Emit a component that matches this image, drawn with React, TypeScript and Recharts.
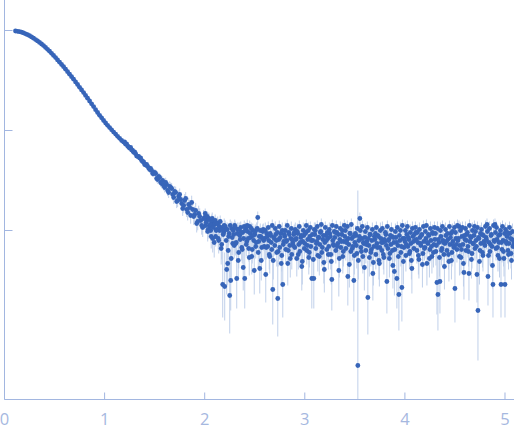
import React from 'react';
import { ScatterChart, Scatter, XAxis, YAxis, ErrorBar } from 'recharts';

// Guinier / decay part of the curve (q, log10 intensity, log10 error)
const qCurve = [
  0.11, 0.13, 0.15, 0.17, 0.19, 0.21, 0.23, 0.25, 0.27, 0.29,
  0.31, 0.33, 0.35, 0.37, 0.39, 0.41, 0.43, 0.45, 0.47, 0.49,
  0.51, 0.53, 0.55, 0.57, 0.59, 0.61, 0.63, 0.65, 0.67, 0.69,
  0.71, 0.73, 0.75, 0.77, 0.79, 0.81, 0.83, 0.85, 0.87, 0.89,
  0.91, 0.93, 0.95, 0.97, 0.99, 1.01, 1.03, 1.05, 1.07, 1.09,
  1.11, 1.13, 1.15, 1.17, 1.19, 1.21, 1.23, 1.25, 1.27, 1.29,
  1.31, 1.33, 1.35, 1.37, 1.39, 1.41, 1.43, 1.45, 1.47, 1.49,
  1.51, 1.53, 1.55, 1.57, 1.59, 1.61, 1.63, 1.65, 1.67, 1.69,
  1.71, 1.73, 1.75, 1.77, 1.79, 1.81, 1.83, 1.85, 1.87, 1.89,
  1.91, 1.93, 1.95, 1.97, 1.99,
];

const logICurve = [
  -0.005, -0.008, -0.012, -0.017, -0.024, -0.033, -0.042, -0.052, -0.064, -0.077,
  -0.091, -0.104, -0.119, -0.135, -0.151, -0.169, -0.188, -0.207, -0.228, -0.249,
  -0.271, -0.294, -0.317, -0.34, -0.362, -0.387, -0.412, -0.437, -0.462, -0.487,
  -0.514, -0.54, -0.568, -0.594, -0.621, -0.649, -0.677, -0.705, -0.733, -0.761,
  -0.792, -0.82, -0.848, -0.873, -0.9, -0.925, -0.948, -0.971, -0.993, -1.016,
  -1.036, -1.058, -1.078, -1.1, -1.116, -1.137, -1.155, -1.177, -1.194, -1.218,
  -1.232, -1.258, -1.276, -1.3, -1.315, -1.345, -1.358, -1.39, -1.4, -1.43,
  -1.43, -1.49, -1.47, -1.53, -1.55, -1.52, -1.6, -1.56, -1.58, -1.67,
  -1.62, -1.7, -1.64, -1.73, -1.75, -1.68, -1.82, -1.77, -1.72, -1.86,
  -1.8, -1.91, -1.86, -1.95, -1.88,
];

const errCurve = [
  0.004, 0.004, 0.004, 0.004, 0.004, 0.004, 0.004, 0.004, 0.004, 0.004,
  0.004, 0.004, 0.004, 0.004, 0.004, 0.004, 0.004, 0.004, 0.004, 0.004,
  0.004, 0.004, 0.005, 0.005, 0.005, 0.005, 0.005, 0.005, 0.005, 0.005,
  0.005, 0.005, 0.006, 0.006, 0.006, 0.006, 0.006, 0.006, 0.007, 0.007,
  0.007, 0.007, 0.007, 0.008, 0.008, 0.008, 0.009, 0.01, 0.01, 0.011,
  0.012, 0.012, 0.013, 0.014, 0.015, 0.016, 0.017, 0.018, 0.019, 0.02,
  0.022, 0.024, 0.025, 0.027, 0.029, 0.03, 0.032, 0.034, 0.036, 0.038,
  0.038, 0.044, 0.042, 0.048, 0.05, 0.048, 0.056, 0.052, 0.055, 0.064,
  0.058, 0.066, 0.06, 0.07, 0.072, 0.064, 0.08, 0.074, 0.068, 0.084,
  0.076, 0.088, 0.082, 0.092, 0.085,
];

// second run of frames over the steep part
const qCurve2 = [
  1.2, 1.22, 1.24, 1.26, 1.28, 1.3, 1.32, 1.34, 1.36, 1.38,
  1.4, 1.42, 1.44, 1.46, 1.48, 1.5, 1.52, 1.54, 1.56, 1.58,
  1.6, 1.62, 1.64, 1.66, 1.68, 1.7, 1.72, 1.74, 1.76, 1.78,
  1.8, 1.82, 1.84, 1.86, 1.88, 1.9, 1.92, 1.94, 1.96, 1.98,
];

const logICurve2 = [
  -1.115, -1.135, -1.165, -1.17, -1.2, -1.215, -1.255, -1.26, -1.275, -1.31,
  -1.34, -1.34, -1.375, -1.38, -1.43, -1.42, -1.48, -1.46, -1.52, -1.5,
  -1.57, -1.54, -1.62, -1.57, -1.64, -1.61, -1.71, -1.66, -1.69, -1.78,
  -1.7, -1.79, -1.74, -1.85, -1.79, -1.84, -1.93, -1.83, -1.9, -1.97,
];

const errCurve2 = [
  0.015, 0.016, 0.017, 0.018, 0.019, 0.02, 0.022, 0.022, 0.023, 0.025,
  0.027, 0.027, 0.03, 0.03, 0.035, 0.034, 0.04, 0.038, 0.044, 0.042,
  0.05, 0.046, 0.055, 0.05, 0.058, 0.054, 0.066, 0.06, 0.063, 0.074,
  0.064, 0.075, 0.068, 0.082, 0.075, 0.08, 0.09, 0.078, 0.086, 0.095,
];

// noisy flat tail, first set of frames
const qTail = [
  2.0, 2.01, 2.02, 2.03, 2.04, 2.05, 2.06, 2.07, 2.08, 2.09,
  2.1, 2.11, 2.12, 2.13, 2.14, 2.15, 2.16, 2.17, 2.18, 2.19,
  2.2, 2.21, 2.22, 2.23, 2.24, 2.25, 2.26, 2.27, 2.28, 2.29,
  2.3, 2.31, 2.32, 2.33, 2.34, 2.35, 2.36, 2.37, 2.38, 2.39,
  2.4, 2.41, 2.42, 2.43, 2.44, 2.45, 2.46, 2.47, 2.48, 2.49,
  2.5, 2.51, 2.52, 2.53, 2.54, 2.55, 2.56, 2.57, 2.58, 2.59,
  2.6, 2.61, 2.62, 2.63, 2.64, 2.65, 2.66, 2.67, 2.68, 2.69,
  2.7, 2.71, 2.72, 2.73, 2.74, 2.75, 2.76, 2.77, 2.78, 2.79,
  2.8, 2.81, 2.82, 2.83, 2.84, 2.85, 2.86, 2.87, 2.88, 2.89,
  2.9, 2.91, 2.92, 2.93, 2.94, 2.95, 2.96, 2.97, 2.98, 2.99,
  3.0, 3.01, 3.02, 3.03, 3.04, 3.05, 3.06, 3.07, 3.08, 3.09,
  3.1, 3.11, 3.12, 3.13, 3.14, 3.15, 3.16, 3.17, 3.18, 3.19,
  3.2, 3.21, 3.22, 3.23, 3.24, 3.25, 3.26, 3.27, 3.28, 3.29,
  3.3, 3.31, 3.32, 3.33, 3.34, 3.35, 3.36, 3.37, 3.38, 3.39,
  3.4, 3.41, 3.42, 3.43, 3.44, 3.45, 3.46, 3.47, 3.48, 3.49,
  3.5, 3.51, 3.52, 3.53, 3.54, 3.55, 3.56, 3.57, 3.58, 3.59,
  3.6, 3.61, 3.62, 3.63, 3.64, 3.65, 3.66, 3.67, 3.68, 3.69,
  3.7, 3.71, 3.72, 3.73, 3.74, 3.75, 3.76, 3.77, 3.78, 3.79,
  3.8, 3.81, 3.82, 3.83, 3.84, 3.85, 3.86, 3.87, 3.88, 3.89,
  3.9, 3.91, 3.92, 3.93, 3.94, 3.95, 3.96, 3.97, 3.98, 3.99,
  4.0, 4.01, 4.02, 4.03, 4.04, 4.05, 4.06, 4.07, 4.08, 4.09,
  4.1, 4.11, 4.12, 4.13, 4.14, 4.15, 4.16, 4.17, 4.18, 4.19,
  4.2, 4.21, 4.22, 4.23, 4.24, 4.25, 4.26, 4.27, 4.28, 4.29,
  4.3, 4.31, 4.32, 4.33, 4.34, 4.35, 4.36, 4.37, 4.38, 4.39,
  4.4, 4.41, 4.42, 4.43, 4.44, 4.45, 4.46, 4.47, 4.48, 4.49,
  4.5, 4.51, 4.52, 4.53, 4.54, 4.55, 4.56, 4.57, 4.58, 4.59,
  4.6, 4.61, 4.62, 4.63, 4.64, 4.65, 4.66, 4.67, 4.68, 4.69,
  4.7, 4.71, 4.72, 4.73, 4.74, 4.75, 4.76, 4.77, 4.78, 4.79,
  4.8, 4.81, 4.82, 4.83, 4.84, 4.85, 4.86, 4.87, 4.88, 4.89,
  4.9, 4.91, 4.92, 4.93, 4.94, 4.95, 4.96, 4.97, 4.98, 4.99,
  5.0, 5.01, 5.02, 5.03, 5.04, 5.05, 5.06, 5.07, 5.08, 5.09,
];

const logITail = [
  -1.87, -1.95, -1.9, -2.01, -1.88, -1.96, -2.0, -1.91, -2.08, -1.94,
  -1.94, -2.06, -1.99, -1.93, -2.1, -2.0, -1.97, -2.14, -2.54, -2.02,
  -2.56, -1.99, -2.39, -2.33, -2.06, -2.65, -2.5, -1.98, -2.13, -2.04,
  -1.95, -2.13, -2.48, -1.99, -2.22, -2.05, -1.97, -2.17, -2.02, -2.08,
  -2.48, -1.98, -2.11, -2.01, -2.18, -1.96, -2.07, -2.26, -2.0, -2.1,
  -2.04, -2.16, -1.99, -1.87, -2.11, -2.38, -2.06, -2.17, -2.01, -2.1,
  -2.08, -2.44, -2.03, -2.16, -2.1, -2.26, -2.05, -2.19, -2.59, -2.07,
  -2.15, -2.04, -2.22, -2.68, -2.09, -2.17, -2.03, -2.25, -2.54, -2.11,
  -2.06, -2.19, -2.1, -2.33, -2.02, -2.15, -2.08, -2.24, -2.12, -2.04,
  -2.17, -2.09, -2.28, -2.03, -2.14, -2.21, -2.07, -2.36, -2.11, -2.05,
  -2.13, -2.02, -2.2, -2.09, -2.27, -2.06, -2.16, -2.48, -2.1, -2.48,
  -2.04, -2.18, -2.11, -2.25, -2.07, -2.14, -2.01, -2.22, -2.09, -2.32,
  -2.12, -2.05, -2.19, -2.08, -2.16, -2.03, -2.24, -2.49, -2.1, -2.15,
  -2.07, -2.2, -2.02, -2.13, -2.4, -2.09, -2.17, -2.04, -2.26, -2.11,
  -2.06, -2.18, -2.1, -2.46, -2.14, -2.03, -2.21, -2.08, -2.16, -2.5,
  -2.12, -2.05, -2.23, -3.35, -2.1, -1.88, -2.17, -2.08, -2.26, -2.13,
  -2.07, -2.2, -2.11, -2.67, -2.15, -2.04, -2.22, -2.1, -2.43, -2.16,
  -2.09, -2.24, -2.13, -2.05, -2.3, -2.17, -2.08, -2.2, -2.12, -2.27,
  -2.11, -2.04, -2.51, -2.18, -2.09, -2.23, -2.14, -2.06, -2.35, -2.12,
  -2.19, -2.07, -2.48, -2.15, -2.64, -2.1, -2.22, -2.57, -2.08, -2.17,
  -2.11, -2.25, -2.04, -2.16, -2.09, -2.21, -2.13, -2.38, -2.06, -2.18,
  -2.1, -2.02, -2.2, -2.12, -2.29, -2.07, -2.15, -2.04, -2.23, -2.11,
  -2.17, -2.08, -2.33, -2.13, -2.05, -2.19, -2.1, -2.26, -2.03, -2.14,
  -2.09, -2.21, -2.52, -2.64, -2.12, -2.51, -2.06, -2.18, -2.1, -2.24,
  -2.13, -2.05, -2.2, -2.09, -2.31, -2.14, -2.03, -2.22, -2.11, -2.17,
  -2.58, -2.08, -2.19, -2.1, -1.96, -2.15, -2.27, -2.06, -2.14, -2.42,
  -2.09, -2.2, -2.04, -2.16, -2.43, -2.11, -2.07, -2.23, -2.13, -2.05,
  -2.18, -2.1, -2.44, -2.8, -2.08, -2.2, -2.13, -2.04, -2.25, -2.11,
  -2.15, -2.07, -1.94, -2.46, -2.12, -2.21, -2.05, -2.16, -2.54, -2.1,
  -1.94, -2.18, -2.09, -2.25, -2.12, -2.04, -2.54, -2.19, -2.1, -2.28,
  -2.54, -2.11, -2.06, -2.2, -2.13, -2.03, -2.23, -2.09, -2.16, -2.12,
];

// [down, up] where a bar is cut by the bottom of the plot
const errTail: (number | number[])[] = [
  0.06, 0.08, 0.06, 0.1, 0.06, 0.08, 0.1, 0.07, 0.14, 0.08,
  0.07, 0.1, 0.08, 0.07, 0.13, 0.08, 0.07, 0.15, 0.33, 0.09,
  0.34, 0.07, 0.25, 0.22, 0.09, 0.38, 0.3, 0.07, 0.12, 0.08,
  0.06, 0.12, 0.3, 0.07, 0.16, 0.09, 0.06, 0.13, 0.08, 0.1,
  0.3, 0.06, 0.1, 0.07, 0.13, 0.06, 0.09, 0.18, 0.07, 0.1,
  0.08, 0.12, 0.07, 0.06, 0.1, 0.25, 0.09, 0.13, 0.07, 0.1,
  0.08, 0.28, 0.07, 0.11, 0.09, 0.17, 0.08, 0.13, 0.35, 0.08,
  0.1, 0.07, 0.14, 0.38, 0.09, 0.12, 0.07, 0.16, 0.33, 0.09,
  0.08, 0.13, 0.09, 0.22, 0.07, 0.1, 0.08, 0.15, 0.1, 0.07,
  0.12, 0.08, 0.18, 0.07, 0.1, 0.14, 0.08, 0.24, 0.09, 0.07,
  0.1, 0.07, 0.14, 0.08, 0.17, 0.08, 0.11, 0.3, 0.09, 0.3,
  0.07, 0.12, 0.09, 0.16, 0.08, 0.1, 0.07, 0.14, 0.08, 0.21,
  0.09, 0.07, 0.13, 0.08, 0.11, 0.07, 0.15, 0.31, 0.09, 0.1,
  0.08, 0.13, 0.07, 0.1, 0.26, 0.08, 0.12, 0.07, 0.17, 0.09,
  0.08, 0.12, 0.09, 0.29, 0.1, 0.07, 0.14, 0.08, 0.11, 0.31,
  0.09, 0.07, 0.15, [0.34, 1.75], 0.09, 0.06, 0.12, 0.08, 0.17, 0.1,
  0.08, 0.13, 0.09, 0.37, 0.1, 0.07, 0.14, 0.09, 0.27, 0.11,
  0.08, 0.15, 0.1, 0.07, 0.19, 0.11, 0.08, 0.13, 0.09, 0.17,
  0.09, 0.07, 0.32, 0.12, 0.08, 0.14, 0.1, 0.07, 0.23, 0.09,
  0.12, 0.08, 0.3, 0.1, 0.36, 0.09, 0.14, 0.34, 0.08, 0.11,
  0.09, 0.16, 0.07, 0.11, 0.08, 0.14, 0.1, 0.25, 0.08, 0.12,
  0.09, 0.07, 0.13, 0.09, 0.19, 0.08, 0.1, 0.07, 0.15, 0.09,
  0.11, 0.08, 0.22, 0.1, 0.07, 0.13, 0.09, 0.17, 0.07, 0.1,
  0.08, 0.14, 0.32, 0.36, 0.09, 0.32, 0.08, 0.12, 0.09, 0.15,
  0.1, 0.07, 0.13, 0.08, 0.2, 0.1, 0.07, 0.14, 0.09, 0.11,
  0.34, 0.08, 0.13, 0.09, 0.06, 0.1, 0.17, 0.08, 0.1, 0.27,
  0.08, 0.13, 0.07, 0.11, 0.27, 0.09, 0.08, 0.15, 0.1, 0.07,
  0.12, 0.09, 0.28, 0.5, 0.08, 0.13, 0.1, 0.07, 0.16, 0.09,
  0.1, 0.08, 0.06, 0.29, 0.09, 0.14, 0.07, 0.11, 0.33, 0.09,
  0.06, 0.12, 0.08, 0.16, 0.09, 0.07, 0.33, 0.13, 0.09, 0.18,
  0.33, 0.09, 0.08, 0.13, 0.1, 0.07, 0.15, 0.08, 0.11, 0.09,
];

// noisy flat tail, second set of frames
const qTail2 = [
  2.005, 2.015, 2.025, 2.035, 2.045, 2.055, 2.065, 2.075, 2.085, 2.095,
  2.105, 2.115, 2.125, 2.135, 2.145, 2.155, 2.165, 2.175, 2.185, 2.195,
  2.205, 2.215, 2.225, 2.235, 2.245, 2.255, 2.265, 2.275, 2.285, 2.295,
  2.305, 2.315, 2.325, 2.335, 2.345, 2.355, 2.365, 2.375, 2.385, 2.395,
  2.405, 2.415, 2.425, 2.435, 2.445, 2.455, 2.465, 2.475, 2.485, 2.495,
  2.505, 2.515, 2.525, 2.535, 2.545, 2.555, 2.565, 2.575, 2.585, 2.595,
  2.605, 2.615, 2.625, 2.635, 2.645, 2.655, 2.665, 2.675, 2.685, 2.695,
  2.705, 2.715, 2.725, 2.735, 2.745, 2.755, 2.765, 2.775, 2.785, 2.795,
  2.805, 2.815, 2.825, 2.835, 2.845, 2.855, 2.865, 2.875, 2.885, 2.895,
  2.905, 2.915, 2.925, 2.935, 2.945, 2.955, 2.965, 2.975, 2.985, 2.995,
  3.005, 3.015, 3.025, 3.035, 3.045, 3.055, 3.065, 3.075, 3.085, 3.095,
  3.105, 3.115, 3.125, 3.135, 3.145, 3.155, 3.165, 3.175, 3.185, 3.195,
  3.205, 3.215, 3.225, 3.235, 3.245, 3.255, 3.265, 3.275, 3.285, 3.295,
  3.305, 3.315, 3.325, 3.335, 3.345, 3.355, 3.365, 3.375, 3.385, 3.395,
  3.405, 3.415, 3.425, 3.435, 3.445, 3.455, 3.465, 3.475, 3.485, 3.495,
  3.505, 3.515, 3.525, 3.535, 3.545, 3.555, 3.565, 3.575, 3.585, 3.595,
  3.605, 3.615, 3.625, 3.635, 3.645, 3.655, 3.665, 3.675, 3.685, 3.695,
  3.705, 3.715, 3.725, 3.735, 3.745, 3.755, 3.765, 3.775, 3.785, 3.795,
  3.805, 3.815, 3.825, 3.835, 3.845, 3.855, 3.865, 3.875, 3.885, 3.895,
  3.905, 3.915, 3.925, 3.935, 3.945, 3.955, 3.965, 3.975, 3.985, 3.995,
  4.005, 4.015, 4.025, 4.035, 4.045, 4.055, 4.065, 4.075, 4.085, 4.095,
  4.105, 4.115, 4.125, 4.135, 4.145, 4.155, 4.165, 4.175, 4.185, 4.195,
  4.205, 4.215, 4.225, 4.235, 4.245, 4.255, 4.265, 4.275, 4.285, 4.295,
  4.305, 4.315, 4.325, 4.335, 4.345, 4.355, 4.365, 4.375, 4.385, 4.395,
  4.405, 4.415, 4.425, 4.435, 4.445, 4.455, 4.465, 4.475, 4.485, 4.495,
  4.505, 4.515, 4.525, 4.535, 4.545, 4.555, 4.565, 4.575, 4.585, 4.595,
  4.605, 4.615, 4.625, 4.635, 4.645, 4.655, 4.665, 4.675, 4.685, 4.695,
  4.705, 4.715, 4.725, 4.735, 4.745, 4.755, 4.765, 4.775, 4.785, 4.795,
  4.805, 4.815, 4.825, 4.835, 4.845, 4.855, 4.865, 4.875, 4.885, 4.895,
  4.905, 4.915, 4.925, 4.935, 4.945, 4.955, 4.965, 4.975, 4.985, 4.995,
  5.005, 5.015, 5.025, 5.035, 5.045, 5.055, 5.065, 5.075, 5.085,
];

const logITail2 = [
  -1.83, -1.92, -1.86, -1.99, -1.89, -1.94, -2.06, -1.88, -1.97, -2.12,
  -1.9, -2.0, -1.93, -2.08, -1.96, -1.91, -2.18, -1.99, -2.04, -1.95,
  -1.96, -2.1, -1.99, -2.2, -2.03, -1.95, -2.28, -2.07, -2.0, -2.15,
  -1.97, -2.12, -2.03, -2.3, -1.99, -2.09, -2.02, -2.19, -2.37, -1.96,
  -2.0, -2.14, -1.95, -2.08, -2.27, -2.03, -1.98, -2.19, -2.05, -2.4,
  -2.01, -2.12, -1.98, -2.22, -2.06, -2.0, -2.3, -2.08, -1.99, -2.16,
  -2.0, -2.17, -2.06, -1.97, -2.24, -2.03, -2.12, -1.95, -2.3, -2.08,
  -1.98, -2.1, -2.02, -2.21, -1.96, -2.07, -2.33, -2.0, -2.14, -2.04,
  -2.0, -2.11, -1.95, -2.2, -2.04, -2.28, -1.98, -2.09, -2.15, -2.02,
  -1.99, -2.08, -2.01, -2.24, -1.96, -2.12, -2.05, -2.31, -2.0, -2.18,
  -2.03, -1.95, -2.15, -2.0, -2.22, -1.97, -2.1, -2.04, -2.29, -1.99,
  -2.0, -2.13, -1.96, -2.07, -2.26, -2.02, -1.94, -2.17, -2.05, -2.39,
  -1.97, -2.1, -2.02, -2.24, -1.99, -2.06, -2.31, -1.95, -2.14, -2.01,
  -2.02, -1.96, -2.16, -2.04, -2.28, -1.98, -2.11, -2.0, -2.21, -1.95,
  -2.0, -2.12, -1.96, -2.08, -2.34, -2.03, -1.94, -2.18, -2.06, -2.25,
  -2.03, -2.15, -1.98, -2.3, -2.06, -2.0, -2.21, -1.96, -2.12, -2.37,
  -2.01, -2.14, -1.97, -2.08, -2.27, -2.04, -2.19, -1.99, -2.32, -2.06,
  -2.03, -1.97, -2.17, -2.06, -2.33, -2.0, -2.12, -1.98, -2.24, -2.09,
  -2.02, -2.15, -1.96, -2.1, -2.28, -2.05, -1.99, -2.2, -2.07, -2.41,
  -2.01, -2.12, -1.97, -2.26, -2.05, -2.0, -2.16, -1.95, -2.31, -2.08,
  -2.0, -2.14, -1.96, -2.07, -2.23, -2.02, -2.3, -1.98, -2.11, -2.04,
  -1.97, -2.09, -2.02, -2.25, -1.99, -2.13, -2.05, -2.34, -1.96, -2.18,
  -2.01, -1.95, -2.12, -2.04, -2.28, -1.98, -2.16, -2.02, -2.22, -1.97,
  -2.03, -2.15, -1.98, -2.09, -2.27, -2.0, -2.2, -1.96, -2.12, -2.36,
  -1.99, -2.11, -2.03, -2.24, -1.96, -2.07, -2.3, -2.01, -2.15, -1.97,
  -2.02, -2.14, -1.95, -2.08, -2.26, -2.0, -2.19, -1.97, -2.33, -2.05,
  -1.98, -2.1, -2.02, -2.21, -1.95, -2.06, -2.29, -2.0, -2.13, -1.96,
  -2.01, -2.16, -1.97, -2.07, -2.31, -2.03, -1.99, -2.22, -2.05, -2.12,
  -1.96, -2.09, -2.01, -2.25, -1.98, -2.14, -2.04, -2.35, -1.95, -2.11,
  -2.02, -1.97, -2.17, -2.05, -2.28, -2.0, -2.12, -1.96, -2.21, -2.03,
  -1.99, -2.13, -2.02, -2.24, -1.97, -2.08, -2.3, -2.01, -2.15,
];

const errTail2 = [
  0.05, 0.07, 0.05, 0.09, 0.06, 0.07, 0.12, 0.06, 0.08, 0.15,
  0.06, 0.08, 0.06, 0.11, 0.07, 0.06, 0.16, 0.08, 0.1, 0.07,
  0.06, 0.11, 0.07, 0.16, 0.09, 0.06, 0.2, 0.1, 0.08, 0.13,
  0.06, 0.11, 0.08, 0.2, 0.07, 0.1, 0.08, 0.14, 0.23, 0.06,
  0.07, 0.12, 0.06, 0.1, 0.18, 0.08, 0.06, 0.14, 0.09, 0.24,
  0.07, 0.11, 0.06, 0.15, 0.09, 0.07, 0.2, 0.1, 0.06, 0.13,
  0.08, 0.12, 0.1, 0.06, 0.15, 0.08, 0.1, 0.06, 0.19, 0.1,
  0.07, 0.1, 0.08, 0.15, 0.06, 0.1, 0.23, 0.08, 0.12, 0.08,
  0.08, 0.1, 0.06, 0.15, 0.08, 0.19, 0.07, 0.1, 0.12, 0.08,
  0.07, 0.1, 0.08, 0.15, 0.06, 0.1, 0.08, 0.23, 0.08, 0.12,
  0.08, 0.06, 0.12, 0.08, 0.15, 0.06, 0.1, 0.08, 0.19, 0.07,
  0.08, 0.12, 0.06, 0.1, 0.19, 0.08, 0.06, 0.12, 0.08, 0.23,
  0.06, 0.1, 0.08, 0.15, 0.07, 0.1, 0.23, 0.06, 0.12, 0.08,
  0.08, 0.06, 0.12, 0.08, 0.19, 0.07, 0.1, 0.08, 0.15, 0.06,
  0.08, 0.1, 0.06, 0.1, 0.23, 0.08, 0.06, 0.12, 0.1, 0.19,
  0.08, 0.12, 0.07, 0.19, 0.1, 0.08, 0.15, 0.06, 0.1, 0.23,
  0.08, 0.12, 0.06, 0.1, 0.19, 0.08, 0.12, 0.07, 0.23, 0.1,
  0.08, 0.06, 0.12, 0.1, 0.23, 0.08, 0.1, 0.07, 0.15, 0.1,
  0.08, 0.12, 0.06, 0.1, 0.19, 0.08, 0.07, 0.15, 0.1, 0.24,
  0.08, 0.1, 0.06, 0.19, 0.08, 0.08, 0.12, 0.06, 0.23, 0.1,
  0.08, 0.12, 0.06, 0.1, 0.15, 0.08, 0.19, 0.07, 0.1, 0.08,
  0.06, 0.1, 0.08, 0.19, 0.07, 0.12, 0.08, 0.23, 0.06, 0.12,
  0.08, 0.06, 0.1, 0.08, 0.19, 0.07, 0.12, 0.08, 0.15, 0.06,
  0.08, 0.12, 0.07, 0.1, 0.19, 0.08, 0.15, 0.06, 0.1, 0.23,
  0.07, 0.1, 0.08, 0.15, 0.06, 0.1, 0.19, 0.08, 0.12, 0.06,
  0.08, 0.12, 0.06, 0.1, 0.19, 0.08, 0.12, 0.06, 0.23, 0.08,
  0.07, 0.1, 0.08, 0.15, 0.06, 0.1, 0.19, 0.08, 0.12, 0.06,
  0.08, 0.12, 0.06, 0.1, 0.23, 0.08, 0.07, 0.15, 0.08, 0.1,
  0.06, 0.1, 0.08, 0.19, 0.07, 0.12, 0.08, 0.23, 0.06, 0.1,
  0.08, 0.06, 0.12, 0.08, 0.19, 0.08, 0.1, 0.06, 0.15, 0.08,
  0.07, 0.12, 0.08, 0.15, 0.06, 0.1, 0.19, 0.08, 0.12,
];

const xTicks = [0, 1, 2, 3, 4, 5];
const yTicks = [-2, -1, 0];

const DOT = '#3765b9';
const BAR = '#c0d0ea';
const AXIS = '#a2b6e0';
const LABEL = '#a6b8df';

const points = [
  ...qTail.map((q, i) => ({ q, logI: logITail[i], err: errTail[i] })),
  ...qTail2.map((q, i) => ({ q, logI: logITail2[i], err: errTail2[i] })),
  ...qCurve2.map((q, i) => ({ q, logI: logICurve2[i], err: errCurve2[i] })),
  ...qCurve.map((q, i) => ({ q, logI: logICurve[i], err: errCurve[i] })),
];

const Dot = (props: any) => <circle cx={props.cx} cy={props.cy} r={2.4} fill={DOT} />;

// bottom ticks point up into the plot, label underneath
const XTick = (props: any) => {
  const { x, y, payload } = props;
  return (
    <g>
      <line x1={x} x2={x} y1={y - 14} y2={y - 21} stroke={AXIS} />
      <text x={x} y={y + 11.7} textAnchor="middle" fill={LABEL} fontSize={16.5} fontFamily="Open Sans">
        {payload.value}
      </text>
    </g>
  );
};

// left ticks point right, no labels
const YTick = (props: any) => {
  const { x, y } = props;
  return <line x1={x} x2={x + 8} y1={y} y2={y} stroke={AXIS} />;
};

export default function App() {
  return (
    <div style={{ position: 'absolute', left: 0, top: 0 }}>
      <ScatterChart width={514} height={437} margin={{ top: 0, right: 0, bottom: 0, left: 0 }}>
        <XAxis
          type="number"
          dataKey="q"
          domain={[0, 5.09]}
          ticks={xTicks}
          allowDataOverflow
          height={37.5}
          stroke={AXIS}
          tickLine={false}
          tickSize={0}
          tickMargin={14}
          tick={<XTick />}
        />
        <YAxis
          type="number"
          dataKey="logI"
          domain={[-3.69, 0.305]}
          ticks={yTicks}
          allowDataOverflow
          width={4.5}
          tickLine={false}
          tickSize={0}
          tickMargin={0}
          tick={<YTick />}
          stroke={AXIS}
        />
        <Scatter data={points} shape={Dot} isAnimationActive={false}>
          <ErrorBar dataKey="err" direction="y" width={0} stroke={BAR} strokeWidth={1} isAnimationActive={false} />
        </Scatter>
      </ScatterChart>
    </div>
  );
}
